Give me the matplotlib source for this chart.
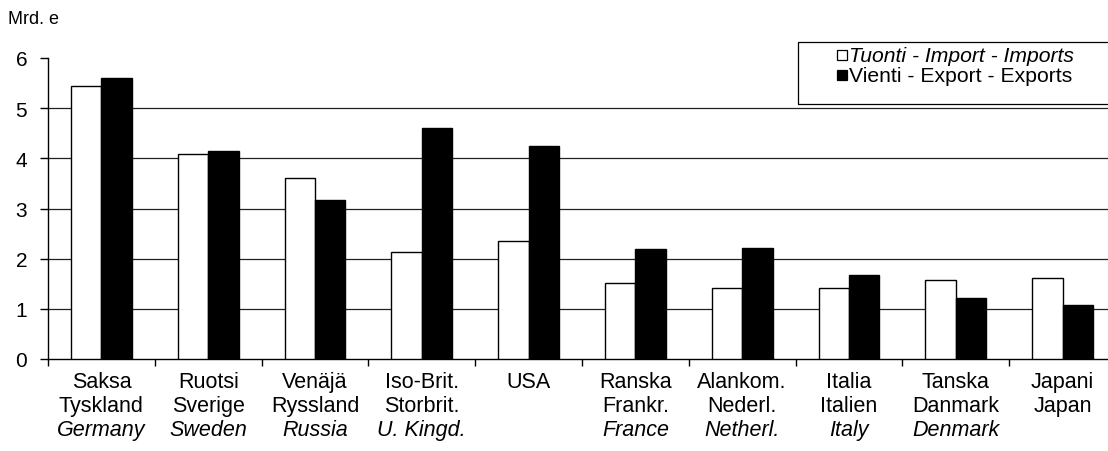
import matplotlib
matplotlib.use("Agg")
import matplotlib.pyplot as plt
from matplotlib.patches import Rectangle
import numpy as np

plt.rcParams['font.family'] = ['Liberation Sans', 'DejaVu Sans']

# ---- data ----
names_fi = ["Saksa", "Ruotsi", "Venäjä", "Iso-Brit.", "USA", "Ranska", "Alankom.", "Italia", "Tanska", "Japani"]
names_sv = ["Tyskland", "Sverige", "Ryssland", "Storbrit.", "", "Frankr.", "Nederl.", "Italien", "Danmark", "Japan"]
names_en = ["Germany", "Sweden", "Russia", "U. Kingd.", "", "France", "Netherl.", "Italy", "Denmark", ""]
imports = [5.44, 4.08, 3.61, 2.14, 2.35, 1.52, 1.41, 1.42, 1.57, 1.62]
exports = [5.61, 4.15, 3.17, 4.61, 4.24, 2.20, 2.22, 1.67, 1.21, 1.08]
series_labels = ["Tuonti - Import - Imports", "Vienti - Export - Exports"]
y_ticks = [0, 1, 2, 3, 4, 5, 6]
y_label = "Mrd. e"

W, H = 1108, 452
fig = plt.figure(figsize=(W / 100, H / 100), dpi=100)
# axes extends slightly past right edge (as in cropped reference)
left, right, bottom, top = 48, 1116, 360, 59
ax = fig.add_axes([left / W, 1 - bottom / H, (right - left) / W, (bottom - top) / H])

n = len(imports)
x = np.arange(n) + 0.5
bw = 0.285
ax.bar(x - bw / 2, imports, width=bw, color="white", edgecolor="black", linewidth=1.0, zorder=3)
ax.bar(x + bw / 2, exports, width=bw, color="black", edgecolor="black", linewidth=1.0, zorder=3)

ax.set_xlim(0, n)
ax.set_ylim(0, 6)
ax.set_yticks(y_ticks)
ax.set_yticklabels([str(t) for t in y_ticks], fontsize=15)
for yv in y_ticks[1:-1]:
    ax.axhline(yv, color="#222222", linewidth=0.9, zorder=1)

ax.set_xticks(np.arange(n + 1))
ax.set_xticklabels([])
ax.tick_params(axis="x", direction="out", length=5, width=1)
ax.tick_params(axis="y", direction="out", length=6, width=1, pad=9)
for s in ["top", "right"]:
    ax.spines[s].set_visible(False)
ax.spines["left"].set_linewidth(1.0)
ax.spines["bottom"].set_linewidth(1.0)

for i in range(n):
    for row, (txt, style) in enumerate([(names_fi[i], "normal"), (names_sv[i], "normal"), (names_en[i], "italic")]):
        if txt:
            ax.annotate(txt, xy=(x[i], 0), xycoords=("data", "axes fraction"),
                        xytext=(0, -23 - 24 * row), textcoords="offset pixels",
                        ha="center", va="center", fontsize=15.5, style=style)

fig.text(8 / W, 1 - 20 / H, y_label, fontsize=13, ha="left", va="center")

# legend box
lx0, ly0, lx1, ly1 = 798, 43, 1120, 105
fig.add_artist(Rectangle((lx0 / W, 1 - ly1 / H), (lx1 - lx0) / W, (ly1 - ly0) / H,
                         transform=fig.transFigure, fill=False, edgecolor="black", linewidth=0.9))
for k, (lab, fc, st) in enumerate(zip(series_labels, ["white", "black"], ["italic", "normal"])):
    cy = 56 + 20 * k
    fig.add_artist(Rectangle((837 / W, 1 - (cy + 5) / H), 10 / W, 10 / H, transform=fig.transFigure,
                             facecolor=fc, edgecolor="black", linewidth=0.9))
    fig.text(849 / W, 1 - cy / H, lab, fontsize=15.2, ha="left", va="center", style=st)

fig.savefig("out.png", dpi=100)
